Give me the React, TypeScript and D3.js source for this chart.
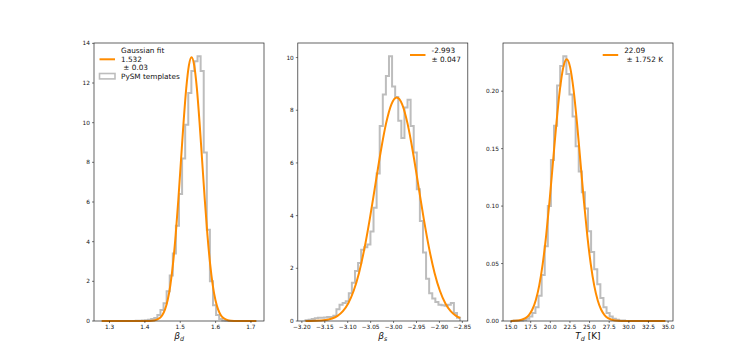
import React from 'react';
import * as d3 from 'd3';

const W = 748;
const H = 361;

// ---------- Panel 1: beta_d ----------
const bdXTicks = [1.3, 1.4, 1.5, 1.6, 1.7];
const bdXTickLabels = ['1.3', '1.4', '1.5', '1.6', '1.7'];
const bdYTicks = [0, 2, 4, 6, 8, 10, 12, 14];
const bdYTickLabels = ['0', '2', '4', '6', '8', '10', '12', '14'];
const bdRange = [1.278, 1.715];
const bdHist = [
  0, 0, 0, 0, 0, 0, 0, 0, 0, 0,
  0, 0.01, 0.01, 0.02, 0.04, 0.06, 0.1, 0.15, 0.3, 0.55,
  0.9, 1.5, 2.3, 3.4, 4.8, 6.4, 8.2, 9.9, 11.5, 12.6,
  13.1, 13.35, 12.6, 8.5, 4.6, 2.0, 0.8, 0.3, 0.1, 0.03,
  0.01, 0, 0, 0, 0, 0, 0, 0, 0, 0,
];
const bdFitX = [1.278, 1.38, 1.397, 1.412, 1.427, 1.442, 1.4495, 1.457, 1.4645, 1.472, 1.4795, 1.487, 1.4945, 1.502, 1.5095, 1.517, 1.5245, 1.532, 1.5395, 1.547, 1.5545, 1.562, 1.5695, 1.577, 1.5845, 1.592, 1.5995, 1.607, 1.6145, 1.622, 1.637, 1.652, 1.667, 1.684, 1.715];
const bdFitY = [0, 0, 0.0005, 0.0045, 0.029, 0.148, 0.303, 0.584, 1.059, 1.8, 2.877, 4.319, 6.089, 8.067, 10.04, 11.74, 12.89, 13.3, 12.89, 11.74, 10.04, 8.067, 6.089, 4.319, 2.877, 1.8, 1.059, 0.584, 0.303, 0.148, 0.029, 0.0045, 0.0005, 0, 0];
const bdLegend = ['Gaussian fit', '1.532', ' ± 0.03'];

// ---------- Panel 2: beta_s ----------
const bsXTicks = [-3.2, -3.15, -3.1, -3.05, -3.0, -2.95, -2.9, -2.85];
const bsXTickLabels = ['−3.20', '−3.15', '−3.10', '−3.05', '−3.00', '−2.95', '−2.90', '−2.85'];
const bsYTicks = [0, 2, 4, 6, 8, 10];
const bsYTickLabels = ['0', '2', '4', '6', '8', '10'];
const bsRange = [-3.192, -2.855];
const bsHist = [
  0.03, 0.05, 0.08, 0.1, 0.12, 0.12, 0.13, 0.15, 0.15, 0.2,
  0.45, 0.62, 0.68, 0.75, 1.05, 1.45, 1.9, 2.2, 2.7, 2.8,
  2.9, 3.4, 4.3, 5.6, 7.4, 8.6, 9.3, 10.05, 8.9, 8.5,
  7.6, 6.95, 8.1, 8.4, 7.4, 6.4, 5.0, 3.8, 2.6, 1.6,
  1.05, 0.85, 0.72, 0.62, 0.6, 0.58, 0.62, 0.68, 0.3, 0.12,
];
const bsFitX = [-3.192, -3.181, -3.1575, -3.134, -3.12225, -3.1105, -3.09875, -3.087, -3.07525, -3.0635, -3.05175, -3.04, -3.02825, -3.0165, -3.00475, -2.993, -2.98125, -2.9695, -2.95775, -2.946, -2.93425, -2.9225, -2.91075, -2.899, -2.88725, -2.8755, -2.86375, -2.855];
const bsFitY = [0.001, 0.0028, 0.0186, 0.0942, 0.194, 0.373, 0.676, 1.148, 1.836, 2.756, 3.886, 5.148, 6.407, 7.491, 8.227, 8.488, 8.227, 7.491, 6.407, 5.148, 3.886, 2.756, 1.836, 1.148, 0.676, 0.373, 0.194, 0.113];
const bsLegend = ['-2.993', '± 0.047'];

// ---------- Panel 3: T_d ----------
const tdXTicks = [15, 17.5, 20, 22.5, 25, 27.5, 30, 32.5, 35];
const tdXTickLabels = ['15.0', '17.5', '20.0', '22.5', '25.0', '27.5', '30.0', '32.5', '35.0'];
const tdYTicks = [0, 0.05, 0.1, 0.15, 0.2];
const tdYTickLabels = ['0.00', '0.05', '0.10', '0.15', '0.20'];
const tdRange = [14.96, 34.64];
const tdHist = [
  0, 0.0005, 0.0005, 0.0005, 0.001, 0.002, 0.004, 0.007, 0.012, 0.022,
  0.04, 0.065, 0.1, 0.14, 0.17, 0.205, 0.222, 0.2304, 0.215, 0.197,
  0.178, 0.152, 0.13, 0.112, 0.098, 0.078, 0.06, 0.045, 0.032, 0.02,
  0.012, 0.007, 0.004, 0.002, 0.001, 0.0005, 0.0005, 0, 0, 0,
  0, 0, 0, 0, 0, 0, 0, 0, 0, 0,
];
const tdFitX = [14.96, 15.958, 16.834, 17.272, 17.71, 18.148, 18.586, 19.024, 19.462, 19.9, 20.338, 20.776, 21.214, 21.652, 22.09, 22.528, 22.966, 23.404, 23.842, 24.28, 24.718, 25.156, 25.594, 26.032, 26.47, 26.908, 27.346, 28.222, 29.098, 30.85, 34.64];
const tdFitY = [0.00006, 0.0005, 0.00253, 0.0052, 0.01, 0.0181, 0.0308, 0.0493, 0.0739, 0.1042, 0.1381, 0.1719, 0.2009, 0.2207, 0.2277, 0.2207, 0.2009, 0.1719, 0.1381, 0.1042, 0.0739, 0.0493, 0.0308, 0.0181, 0.01, 0.0052, 0.00253, 0.0005, 0.00008, 0, 0];
const tdLegend = ['22.09', ' ± 1.752 K'];

const ORANGE = '#ff8c00';
const GREY = '#bdbdbd';
const FONT = 'DejaVu Sans, sans-serif';
const TICK_FS = 5.8;
const LEG_FS = 7.3;
const LABEL_FS = 9;

const TOP = 43;
const BOTTOM = 321;
const PW = 170;

type PanelProps = {
  left: number;
  range: number[];
  hist: number[];
  fitX: number[];
  fitY: number[];
  xTicks: number[];
  xTickLabels: string[];
  yTicks: number[];
  yTickLabels: string[];
  legend: string[];
  legendX: number;
  showHistLegend: boolean;
  xlabel: React.ReactNode;
};

function Panel(p: PanelProps) {
  const [lo, hi] = p.range;
  const R = hi - lo;
  const x = d3.scaleLinear().domain([lo - 0.05 * R, hi + 0.05 * R]).range([p.left, p.left + PW]);
  const ymax = Math.max(d3.max(p.hist) || 0, d3.max(p.fitY) || 0) * 1.05;
  const y = d3.scaleLinear().domain([0, ymax]).range([BOTTOM, TOP]);
  const n = p.hist.length;
  const edges = d3.range(n + 1).map((i) => lo + (i * R) / n);
  const pts: [number, number][] = [[edges[0], 0]];
  p.hist.forEach((v, i) => {
    pts.push([edges[i], v]);
    pts.push([edges[i + 1], v]);
  });
  pts.push([edges[n], 0]);
  const stepLine = d3.line<[number, number]>().x((d) => x(d[0])).y((d) => y(d[1]));
  const fitPts: [number, number][] = p.fitX.map((v, i) => [v, p.fitY[i]]);
  const fitLine = d3
    .line<[number, number]>()
    .x((d) => x(d[0]))
    .y((d) => y(d[1]))
    .curve(d3.curveMonotoneX);

  const lh = 8.6;
  const legX = p.legendX;
  const legY = TOP + 10;
  const nLines = p.legend.length;
  const handleY = legY + ((nLines - 1) * lh) / 2 - 2.3;
  return (
    <g>
      <path d={stepLine(pts) || ''} fill="none" stroke={GREY} strokeWidth={2} strokeLinejoin="miter" />
      <path d={fitLine(fitPts) || ''} fill="none" stroke={ORANGE} strokeWidth={2} />
      <rect x={p.left} y={TOP} width={PW} height={BOTTOM - TOP} fill="none" stroke="#222" strokeWidth={0.7} />
      {p.xTicks.map((t, i) => (
        <g key={'x' + i}>
          <line x1={x(t)} x2={x(t)} y1={BOTTOM} y2={BOTTOM + 2} stroke="#222" strokeWidth={0.6} />
          <text x={x(t)} y={BOTTOM + 8.2} textAnchor="middle" fontSize={TICK_FS} fontFamily={FONT} fill="#111">
            {p.xTickLabels[i]}
          </text>
        </g>
      ))}
      {p.yTicks.map((t, i) => (
        <g key={'y' + i}>
          <line x1={p.left - 2} x2={p.left} y1={y(t)} y2={y(t)} stroke="#222" strokeWidth={0.6} />
          <text x={p.left - 4} y={y(t) + 2.1} textAnchor="end" fontSize={TICK_FS} fontFamily={FONT} fill="#111">
            {p.yTickLabels[i]}
          </text>
        </g>
      ))}
      <line x1={legX} x2={legX + 15.5} y1={handleY} y2={handleY} stroke={ORANGE} strokeWidth={2} />
      {p.legend.map((s, i) => (
        <text
          key={'l' + i}
          x={legX + 21.5}
          y={legY + i * lh}
          fontSize={LEG_FS}
          fontFamily={FONT}
          fill="#111"
          style={{ whiteSpace: 'pre' }}
        >
          {s}
        </text>
      ))}
      {p.showHistLegend && (
        <g>
          <rect x={legX} y={legY + nLines * lh - 5.3} width={15.5} height={5.4} fill="none" stroke={GREY} strokeWidth={1.6} />
          <text x={legX + 21.5} y={legY + nLines * lh + 0.3} fontSize={LEG_FS} fontFamily={FONT} fill="#111">
            PySM templates
          </text>
        </g>
      )}
      <text x={p.left + PW / 2} y={339} textAnchor="middle" fontSize={LABEL_FS} fontFamily={FONT} fill="#111">
        {p.xlabel}
      </text>
    </g>
  );
}

export default function App() {
  return (
    <svg
      width={W}
      height={H}
      viewBox={`0 0 ${W} ${H}`}
      style={{ position: 'absolute', left: 0, top: 0, background: '#fff' }}
    >
      <rect x={0} y={0} width={W} height={H} fill="#fff" />
      <Panel
        left={94}
        range={bdRange}
        hist={bdHist}
        fitX={bdFitX}
        fitY={bdFitY}
        xTicks={bdXTicks}
        xTickLabels={bdXTickLabels}
        yTicks={bdYTicks}
        yTickLabels={bdYTickLabels}
        legend={bdLegend}
        legendX={99.5}
        showHistLegend={true}
        xlabel={
          <>
            <tspan fontStyle="italic">β</tspan>
            <tspan fontStyle="italic" fontSize={6.3} dy={1.8}>d</tspan>
          </>
        }
      />
      <Panel
        left={297.8}
        range={bsRange}
        hist={bsHist}
        fitX={bsFitX}
        fitY={bsFitY}
        xTicks={bsXTicks}
        xTickLabels={bsXTickLabels}
        yTicks={bsYTicks}
        yTickLabels={bsYTickLabels}
        legend={bsLegend}
        legendX={410}
        showHistLegend={false}
        xlabel={
          <>
            <tspan fontStyle="italic">β</tspan>
            <tspan fontStyle="italic" fontSize={6.3} dy={1.8}>s</tspan>
          </>
        }
      />
      <Panel
        left={503}
        range={tdRange}
        hist={tdHist}
        fitX={tdFitX}
        fitY={tdFitY}
        xTicks={tdXTicks}
        xTickLabels={tdXTickLabels}
        yTicks={tdYTicks}
        yTickLabels={tdYTickLabels}
        legend={tdLegend}
        legendX={602.7}
        showHistLegend={false}
        xlabel={
          <>
            <tspan fontStyle="italic">T</tspan>
            <tspan fontStyle="italic" fontSize={6.3} dy={1.8}>d</tspan>
            <tspan dy={-1.8} style={{ whiteSpace: 'pre' }}> [K]</tspan>
          </>
        }
      />
    </svg>
  );
}
